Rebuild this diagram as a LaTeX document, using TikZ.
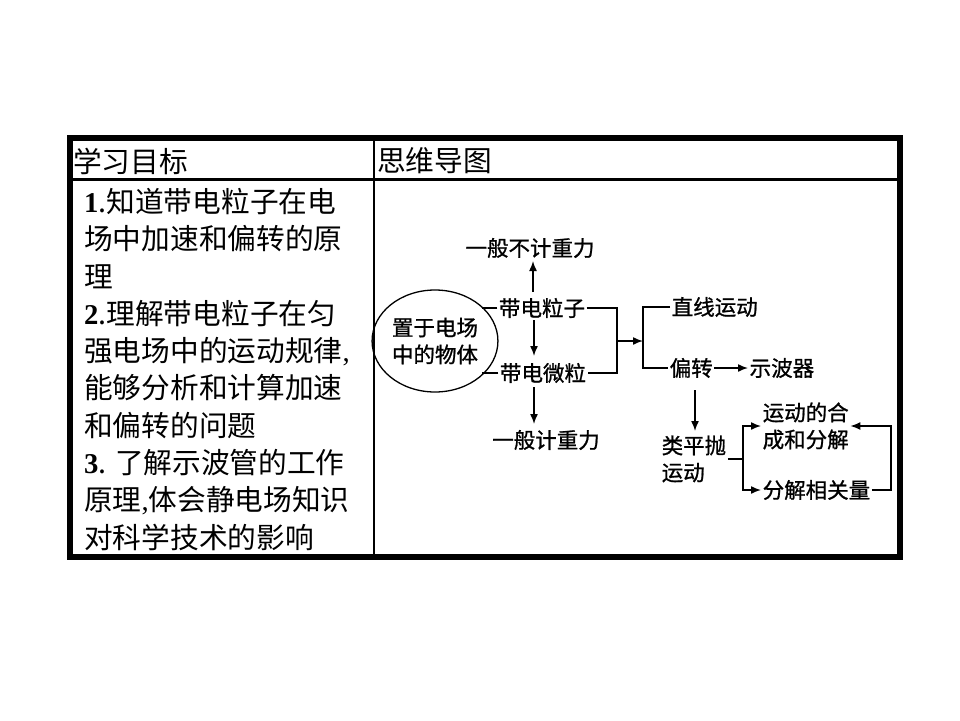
\documentclass[tikz,border=0pt]{standalone}
\usepackage{fontspec}
\setmainfont{Liberation Serif}
\newfontfamily\cjk{Noto Sans CJK SC}
\newfontfamily\cjkmap[FakeBold=1]{Noto Sans CJK SC}
\usetikzlibrary{shapes.geometric,arrows.meta}

\tikzset{
  headtext/.style={anchor=west, inner sep=0pt, font=\cjk\fontsize{28.7}{37.3}\selectfont},
  rowtext/.style={anchor=north west, inner sep=0pt, align=left, font=\cjk\fontsize{28.7}{37.3}\selectfont},
  maptext/.style={inner sep=1.5pt, font=\cjkmap\fontsize{21.5}{27}\selectfont},
  link/.style={line width=1.5pt},
  pointer/.style={line width=1.5pt, -{Latex[length=10pt,width=8pt]}},
}
\newcommand{\goalnum}[1]{{\rmfamily\bfseries #1}}

\begin{document}
\begin{tikzpicture}[x=1pt,y=-1pt]
\useasboundingbox (0,0) rectangle (960,720);
% table
\draw[line width=2.5pt] (69.5,179.5) -- (900,179.5);
\draw[line width=2.5pt] (374,138) -- (374,557);
\draw[line width=6pt] (69.5,138) rectangle (900,557);
\node[headtext] (goalhead) at (73,161) {学习目标};
\node[headtext] (maphead) at (377,161) {思维导图};
\node[rowtext] (goals) at (84,188) {\goalnum{1}.知道带电粒子在电\\
场中加速和偏转的原\\
理\\
\goalnum{2}.理解带电粒子在匀\\
强电场中的运动规律{\rmfamily,}\\
能够分析和计算加速\\
和偏转的问题\\
\goalnum{3}. 了解示波管的工作\\
原理{\rmfamily,}体会静电场知识\\
对科学技术的影响};

% mind map
\node[maptext, ellipse, draw, line width=1.3pt, minimum width=114pt, minimum height=102pt, align=center] (obj) at (435,341) {置于电场\\中的物体};
\node[maptext] (particle) at (542,308) {带电粒子};
\node[maptext] (grain) at (543,373) {带电微粒};
\node[maptext] (nogravity) at (530,248) {一般不计重力};
\node[maptext] (gravity) at (546,440) {一般计重力};
\node[maptext, anchor=west] (straight) at (670,307) {直线运动};
\node[maptext, anchor=west] (deflect) at (668,368) {偏转};
\node[maptext, anchor=west] (scope) at (748,368) {示波器};
\node[maptext, anchor=west, align=left] (projectile) at (660,459) {类平抛\\运动};
\node[maptext, anchor=west, align=left] (compose) at (761,426) {运动的合\\成和分解};
\node[maptext, anchor=west] (quantity) at (761,490) {分解相关量};

\coordinate (join1) at (617,341);
\coordinate (join2) at (643,341);
\coordinate (join3) at (743,459);

\draw[link] (particle.west) -- (particle.west -| obj.37);
\draw[link] (grain.west) -- (grain.west -| obj.-37);
\draw[pointer] (533,292) -- (533,261);
\draw[pointer] (534,320) -- (534,356);
\draw[pointer] (534,387) -- (534,424);
\draw[link] (particle.east) -| (join1) |- (grain.east);
\draw[pointer] (join1) -- (join2);
\draw[link] (straight.west) -| (join2) |- (deflect.west);
\draw[pointer] (deflect.east) -- (scope.west);
\draw[pointer] (695,390) -- (695,431);
\draw[link] (projectile.east |- join3) -- (join3);
\draw[pointer] (join3) |- (compose.west);
\draw[pointer] (join3) |- (quantity.west);
\draw[pointer] (quantity.east) -- ++(19,0) |- (compose.east);
\end{tikzpicture}
\end{document}
